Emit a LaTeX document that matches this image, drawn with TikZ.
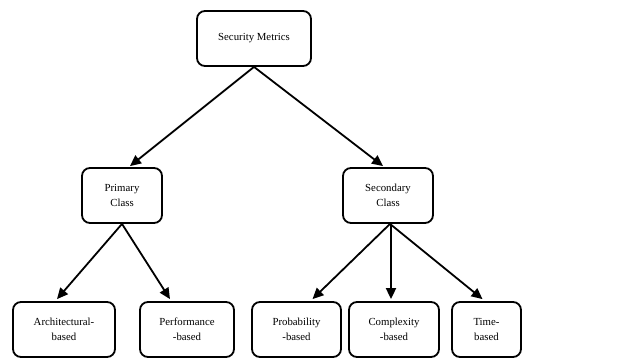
\documentclass[tikz,border=0pt]{standalone}
\usepackage{fontspec}
\setmainfont{Liberation Serif}
\usepackage{tikz}
\usetikzlibrary{arrows.meta}

\begin{document}
\begin{tikzpicture}[x=1pt, y=-1pt,
        box/.style={draw, line width=1.8pt, rounded corners=8pt, align=center,
            minimum height=55pt, inner sep=0pt, font=\fontsize{10.8}{15}\selectfont},
        link/.style={line width=1.8pt, -{Triangle[length=11pt, width=10pt]}}]
        \useasboundingbox (0, 0) rectangle (642, 358);

        \node[box, minimum width=114pt] (metrics) at (254, 38.5) {Security Metrics};
        \node[box, minimum width=80pt] (primary) at (122, 195.5) {Primary\\Class};
        \node[box, minimum width=90pt] (secondary) at (388, 195.5) {Secondary\\Class};
        \node[box, minimum width=102pt] (arch) at (64, 329.5) {Architectural-\\based};
        \node[box, minimum width=94pt] (perf) at (187, 329.5) {Performance\\-based};
        \node[box, minimum width=89pt] (prob) at (296.5, 329.5) {Probability\\-based};
        \node[box, minimum width=90pt] (comp) at (394, 329.5) {Complexity\\-based};
        \node[box, minimum width=69pt] (time) at (486.5, 329.5) {Time-\\based};

        \draw[link] (metrics.south) -- ([xshift=8pt, yshift=1pt]primary.north);
        \draw[link] (metrics.south) -- ([xshift=-5pt, yshift=1pt]secondary.north);
        \draw[link] (primary.south) -- ([xshift=-7pt, yshift=2pt]arch.north);
        \draw[link] (primary.south) -- ([xshift=-17pt, yshift=2pt]perf.north);
        \draw[link] ([xshift=2pt]secondary.south) -- ([xshift=16pt, yshift=2pt]prob.north);
        \draw[link] ([xshift=3pt]secondary.south) -- ([xshift=-3pt, yshift=2pt]comp.north);
        \draw[link] ([xshift=2pt]secondary.south) -- ([xshift=-4pt, yshift=2pt]time.north);
    \end{tikzpicture}
\end{document}
